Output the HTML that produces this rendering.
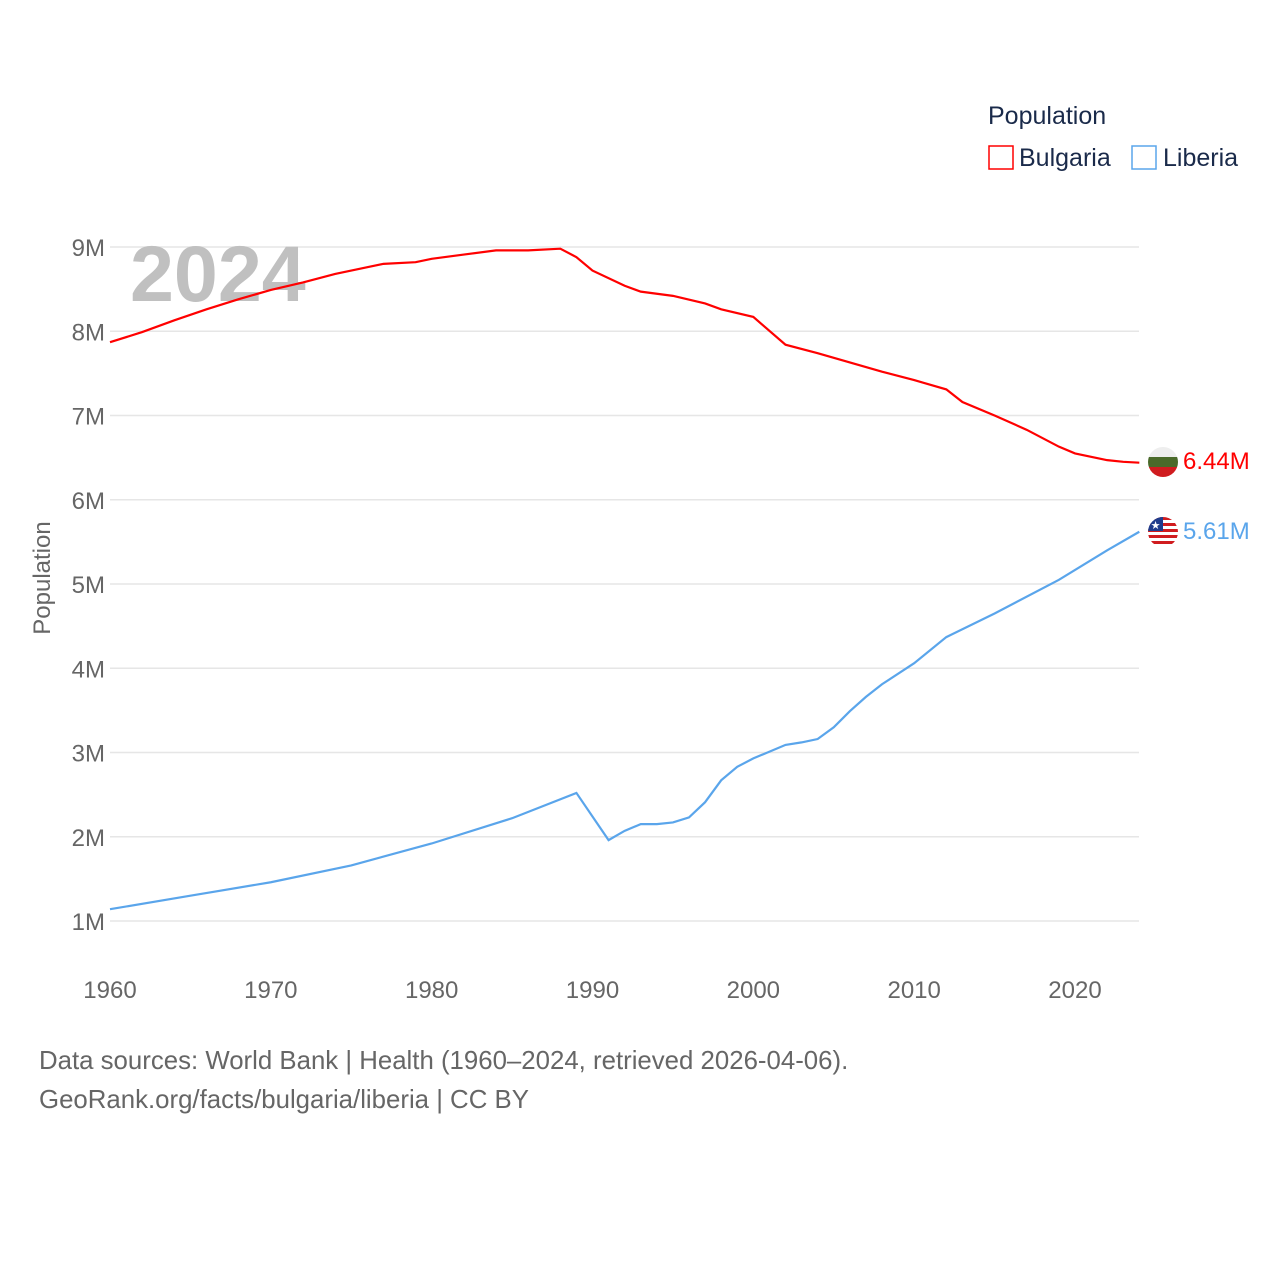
<!DOCTYPE html>
<html><head><meta charset="utf-8"><style>
body{margin:0;background:#fff;font-family:"Liberation Sans",sans-serif}
</style></head><body>
<svg id="chart" width="1280" height="1280" xmlns="http://www.w3.org/2000/svg" font-family="Liberation Sans, sans-serif">
<rect width="1280" height="1280" fill="#fff"/>
<g id="grid"></g>
<text x="130" y="301" font-size="79" font-weight="bold" fill="#c0c0c0">2024</text>
<g id="lines"></g>
<text transform="translate(50,578) rotate(-90)" text-anchor="middle" font-size="24" fill="#666">Population</text>
<g>
<text x="988" y="124" font-size="25" fill="#1a2a4a">Population</text>
<g><rect x="989" y="146" width="24" height="23" fill="none" stroke="#ff0000" stroke-width="1.5"/><text x="1019" y="166" font-size="25" fill="#1a2a4a">Bulgaria</text></g>
<g><rect x="1132" y="146" width="24" height="23" fill="none" stroke="#5aa5eb" stroke-width="1.5"/><text x="1163" y="166" font-size="25" fill="#1a2a4a">Liberia</text></g>
</g>
<defs>
<clipPath id="cb"><circle cx="1163" cy="462" r="15"/></clipPath>
<clipPath id="cl"><circle cx="1163" cy="532" r="15"/></clipPath>
</defs>
<g clip-path="url(#cb)">
<rect x="1148" y="447" width="30" height="10" fill="#eee"/><rect x="1148" y="457" width="30" height="10" fill="#4a6a2a"/><rect x="1148" y="467" width="30" height="10" fill="#d01c1f"/>
</g>
<g clip-path="url(#cl)">
<rect x="1148" y="517" width="30" height="30" fill="#fff"/>
<rect x="1148" y="517" width="30" height="3" fill="#d01c1f"/><rect x="1148" y="523" width="30" height="3" fill="#d01c1f"/><rect x="1148" y="529" width="30" height="3" fill="#d01c1f"/><rect x="1148" y="535" width="30" height="3" fill="#d01c1f"/><rect x="1148" y="541" width="30" height="3" fill="#d01c1f"/>
<rect x="1148" y="517" width="15" height="14" fill="#1f3c8c"/><text x="1155.5" y="529" font-size="11" fill="#fff" text-anchor="middle">★</text>
</g>
<text x="1183" y="469" font-size="24" fill="#ff0000">6.44M</text>
<text x="1183" y="539" font-size="24" fill="#5aa5eb">5.61M</text>
<text x="39" y="1069" font-size="25.8" fill="#666">Data sources: World Bank | Health (1960–2024, retrieved 2026-04-06).</text>
<text x="39" y="1108" font-size="25.8" fill="#666">GeoRank.org/facts/bulgaria/liberia | CC BY</text>
</svg>
<script>
const yTicks=[1,2,3,4,5,6,7,8,9];
const yTickLabels=["1M","2M","3M","4M","5M","6M","7M","8M","9M"];
const xTicks=[1960,1970,1980,1990,2000,2010,2020];
const bgYears=[1960,1962,1964,1966,1968,1970,1972,1974,1976,1977,1979,1980,1982,1984,1986,1988,1989,1990,1992,1993,1995,1997,1998,2000,2002,2004,2006,2008,2010,2012,2013,2015,2017,2019,2020,2022,2023,2024];
const bgValues=[7.87,7.99,8.13,8.26,8.38,8.49,8.58,8.68,8.76,8.80,8.82,8.86,8.91,8.96,8.96,8.98,8.88,8.72,8.54,8.47,8.42,8.33,8.26,8.17,7.84,7.74,7.63,7.52,7.42,7.31,7.16,7.00,6.83,6.63,6.55,6.47,6.45,6.44];
const lrYears=[1960,1965,1970,1975,1980,1985,1989,1991,1992,1993,1994,1995,1996,1997,1998,1999,2000,2002,2003,2004,2005,2006,2007,2008,2010,2012,2015,2019,2022,2024];
const lrValues=[1.14,1.30,1.46,1.66,1.92,2.22,2.52,1.96,2.07,2.15,2.15,2.17,2.23,2.41,2.67,2.83,2.93,3.09,3.12,3.16,3.30,3.49,3.66,3.81,4.06,4.37,4.65,5.05,5.40,5.62];
const NS="http://www.w3.org/2000/svg";
const xs=y=>110+(y-1960)*(1075-110)/60;
const ys=v=>921-(v-1)*(921-247)/8;
const grid=document.getElementById('grid');
yTicks.forEach((t,i)=>{
 const l=document.createElementNS(NS,'line');
 
 
 l.setAttribute('x1',110);l.setAttribute('x2',1139);l.setAttribute('y1',ys(t));l.setAttribute('y2',ys(t));
 l.setAttribute('stroke','#e6e6e6');l.setAttribute('stroke-width','1.5');grid.appendChild(l);
 const tx=document.createElementNS(NS,'text');
 
 
 tx.setAttribute('x',105);tx.setAttribute('y',ys(t)+9);tx.setAttribute('text-anchor','end');
 tx.setAttribute('font-size','24');tx.setAttribute('fill','#666');tx.textContent=yTickLabels[i];grid.appendChild(tx);
});
xTicks.forEach(t=>{
 const tx=document.createElementNS(NS,'text');
 
 
 tx.setAttribute('x',xs(t));tx.setAttribute('y',998);tx.setAttribute('text-anchor','middle');
 tx.setAttribute('font-size','24');tx.setAttribute('fill','#666');tx.textContent=t;grid.appendChild(tx);
});
const lines=document.getElementById('lines');
function draw(yrs,vals,color,name){
 const p=document.createElementNS(NS,'polyline');
 
 
 p.setAttribute('points',yrs.map((y,i)=>xs(y)+','+ys(vals[i])).join(' '));
 p.setAttribute('fill','none');p.setAttribute('stroke',color);p.setAttribute('stroke-width','2.2');
 lines.appendChild(p);
}
draw(bgYears,bgValues,'#ff0000','bulgaria-line');
draw(lrYears,lrValues,'#5aa5eb','liberia-line');
</script>
</body></html>
